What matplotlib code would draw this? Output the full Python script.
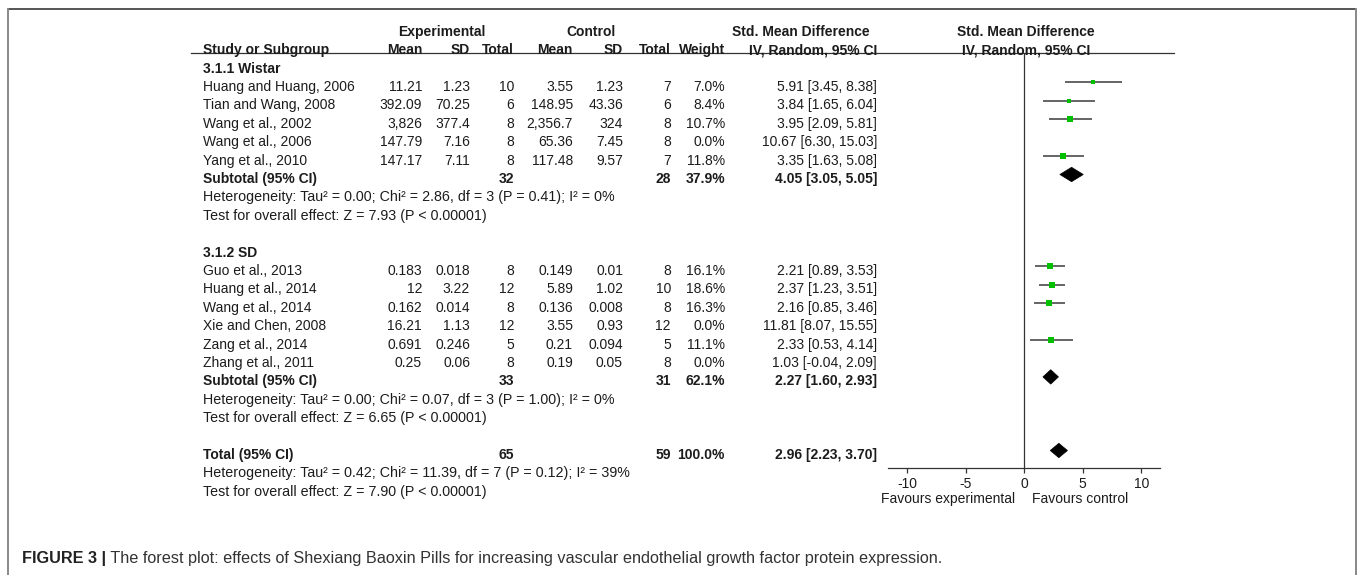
import matplotlib
matplotlib.use('Agg')
import matplotlib.pyplot as plt
from matplotlib.patches import Polygon
import numpy as np

plt.rcParams['font.family'] = ['Liberation Sans', 'DejaVu Sans']

# ---------------- data ----------------
group_names = ['3.1.1 Wistar', '3.1.2 SD']

g1_study = ['Huang and Huang, 2006', 'Tian and Wang, 2008', 'Wang et al., 2002',
            'Wang et al., 2006', 'Yang et al., 2010']
g1_exp_mean = ['11.21', '392.09', '3,826', '147.79', '147.17']
g1_exp_sd = ['1.23', '70.25', '377.4', '7.16', '7.11']
g1_exp_n = [10, 6, 8, 8, 8]
g1_ctl_mean = ['3.55', '148.95', '2,356.7', '65.36', '117.48']
g1_ctl_sd = ['1.23', '43.36', '324', '7.45', '9.57']
g1_ctl_n = [7, 6, 8, 8, 7]
g1_weight = [7.0, 8.4, 10.7, 0.0, 11.8]
g1_smd = [5.91, 3.84, 3.95, 10.67, 3.35]
g1_lo = [3.45, 1.65, 2.09, 6.30, 1.63]
g1_hi = [8.38, 6.04, 5.81, 15.03, 5.08]

g2_study = ['Guo et al., 2013', 'Huang et al., 2014', 'Wang et al., 2014',
            'Xie and Chen, 2008', 'Zang et al., 2014', 'Zhang et al., 2011']
g2_exp_mean = ['0.183', '12', '0.162', '16.21', '0.691', '0.25']
g2_exp_sd = ['0.018', '3.22', '0.014', '1.13', '0.246', '0.06']
g2_exp_n = [8, 12, 8, 12, 5, 8]
g2_ctl_mean = ['0.149', '5.89', '0.136', '3.55', '0.21', '0.19']
g2_ctl_sd = ['0.01', '1.02', '0.008', '0.93', '0.094', '0.05']
g2_ctl_n = [8, 10, 8, 12, 5, 8]
g2_weight = [16.1, 18.6, 16.3, 0.0, 11.1, 0.0]
g2_smd = [2.21, 2.37, 2.16, 11.81, 2.33, 1.03]
g2_lo = [0.89, 1.23, 0.85, 8.07, 0.53, -0.04]
g2_hi = [3.53, 3.51, 3.46, 15.55, 4.14, 2.09]

# subtotal 1, subtotal 2, total
sum_label = ['Subtotal (95% CI)', 'Subtotal (95% CI)', 'Total (95% CI)']
sum_exp_n = [32, 33, 65]
sum_ctl_n = [28, 31, 59]
sum_weight = [37.9, 62.1, 100.0]
sum_smd = [4.05, 2.27, 2.96]
sum_lo = [3.05, 1.60, 2.23]
sum_hi = [5.05, 2.93, 3.70]
sum_het = ['Heterogeneity: Tau\u00b2 = 0.00; Chi\u00b2 = 2.86, df = 3 (P = 0.41); I\u00b2 = 0%',
           'Heterogeneity: Tau\u00b2 = 0.00; Chi\u00b2 = 0.07, df = 3 (P = 1.00); I\u00b2 = 0%',
           'Heterogeneity: Tau\u00b2 = 0.42; Chi\u00b2 = 11.39, df = 7 (P = 0.12); I\u00b2 = 39%']
sum_test = ['Test for overall effect: Z = 7.93 (P < 0.00001)',
            'Test for overall effect: Z = 6.65 (P < 0.00001)',
            'Test for overall effect: Z = 7.90 (P < 0.00001)']

x_ticks = [-10, -5, 0, 5, 10]
x_tick_labels = ['-10', '-5', '0', '5', '10']
favours = ['Favours experimental', 'Favours control']
col_headers = ['Mean', 'SD', 'Total', 'Mean', 'SD', 'Total', 'Weight', 'IV, Random, 95% CI']
caption_bold = 'FIGURE 3 |'
caption_text = (' The forest plot: effects of Shexiang Baoxin Pills for increasing vascular '
                'endothelial growth factor protein expression.')

# ---------------- layout ----------------
W, H, DPI = 1357, 575, 100
FS = 10
FS_NOTE = 10.25
TXT = '#1c1c1c'
LINE = '#333333'
GREEN = '#00c000'
PITCH = 18.4
Y0 = 31.8


def ry(i):
    return Y0 + i * PITCH


COL_R = [422, 470, 514, 573, 623, 671, 725, 877]
X_LABEL = 203

fig = plt.figure(figsize=(W / DPI, H / DPI), dpi=DPI)
fig.patch.set_facecolor('white')
ax_t = fig.add_axes([0, 0, 1, 1])
ax_t.set_xlim(0, W)
ax_t.set_ylim(H, 0)
ax_t.axis('off')

# border frame
ax_t.plot([7.5, 1355.5], [8.5, 8.5], color='#555555', lw=1.4, solid_capstyle='butt')
ax_t.plot([7.5, 7.5], [8.5, H + 5], color='#888888', lw=1.4, clip_on=False)
ax_t.plot([1355.5, 1355.5], [8.5, H + 5], color='#888888', lw=1.4, clip_on=False)

# forest axes
FX0, FX1 = 888.3, 1160.0
FY_TOP, FY_BOT = 53.0, 468.3
ax = fig.add_axes([FX0 / W, 1 - FY_BOT / H, (FX1 - FX0) / W, (FY_BOT - FY_TOP) / H])
ax.set_xlim(-11.6, 11.6)
ax.set_ylim(FY_BOT, FY_TOP)
ax.patch.set_alpha(0)
for s in ['top', 'right', 'left']:
    ax.spines[s].set_visible(False)
ax.spines['bottom'].set_color(LINE)
ax.spines['bottom'].set_linewidth(0.9)
ax.set_yticks([])
ax.set_xticks(x_ticks)
ax.set_xticklabels(x_tick_labels)
ax.tick_params(axis='x', length=3.8, width=0.9, color=LINE, pad=2.5,
               labelsize=FS, labelcolor=TXT)
ax.axvline(0, color=LINE, lw=0.9)

# header line
ax_t.plot([191, 1174], [53.3, 53.3], color=LINE, lw=0.9)

# headers
bold = dict(fontsize=FS, color=TXT, fontweight='bold', va='center')
ax_t.text(442, ry(0), 'Experimental', ha='center', **bold)
ax_t.text(591, ry(0), 'Control', ha='center', **bold)
ax_t.text(801, ry(0), 'Std. Mean Difference', ha='center', **bold)
ax_t.text(1026, ry(0), 'Std. Mean Difference', ha='center', **bold)
ax_t.text(X_LABEL, ry(1), 'Study or Subgroup', ha='left', **bold)
for x, h in zip(COL_R, col_headers):
    ax_t.text(x, ry(1), h, ha='right', **bold)
ax_t.text(1026, ry(1), 'IV, Random, 95% CI', ha='center', **bold)

norm = dict(fontsize=FS, color=TXT, va='center')
note = dict(fontsize=FS_NOTE, color=TXT, va='center')


def ci_str(m, l, h):
    return f'{m:.2f} [{l:.2f}, {h:.2f}]'


def draw_group(start, name, study, em, es, en, cm, cs, cn, w, smd, lo, hi, k):
    ax_t.text(X_LABEL, ry(start), name, ha='left', **bold)
    for j in range(len(study)):
        r = start + 1 + j
        vals = [em[j], es[j], str(en[j]), cm[j], cs[j], str(cn[j]),
                f'{w[j]:.1f}%', ci_str(smd[j], lo[j], hi[j])]
        ax_t.text(X_LABEL, ry(r), study[j], ha='left', **norm)
        for x, v in zip(COL_R, vals):
            ax_t.text(x, ry(r), v, ha='right', **norm)
        if w[j] > 0:
            yy = ry(r) - 4.5
            ax.plot([lo[j], hi[j]], [yy, yy], color='#3a3a3a', lw=1.1,
                    solid_capstyle='butt', zorder=2)
            ax.plot([smd[j]], [yy], marker='s', linestyle='none',
                    markersize=1.62 * np.sqrt(w[j]) * 0.72,
                    color=GREEN, markeredgewidth=0, zorder=3)
    draw_summary(start + 1 + len(study), k)


def draw_summary(r, k):
    ax_t.text(X_LABEL, ry(r), sum_label[k], ha='left', **bold)
    vals = {2: str(sum_exp_n[k]), 5: str(sum_ctl_n[k]),
            6: f'{sum_weight[k]:.1f}%', 7: ci_str(sum_smd[k], sum_lo[k], sum_hi[k])}
    for ci, v in vals.items():
        ax_t.text(COL_R[ci], ry(r), v, ha='right', **bold)
    yy = ry(r) - 4.5
    hh = 7.2
    poly = Polygon([[sum_lo[k], yy], [sum_smd[k], yy - hh], [sum_hi[k], yy],
                    [sum_smd[k], yy + hh]], closed=True, facecolor='black',
                   edgecolor='black', lw=0.5, zorder=3)
    ax.add_patch(poly)
    ax_t.text(X_LABEL, ry(r + 1), sum_het[k], ha='left', **note)
    ax_t.text(X_LABEL, ry(r + 2), sum_test[k], ha='left', **note)


draw_group(2, group_names[0], g1_study, g1_exp_mean, g1_exp_sd, g1_exp_n,
           g1_ctl_mean, g1_ctl_sd, g1_ctl_n, g1_weight, g1_smd, g1_lo, g1_hi, 0)
draw_group(12, group_names[1], g2_study, g2_exp_mean, g2_exp_sd, g2_exp_n,
           g2_ctl_mean, g2_ctl_sd, g2_ctl_n, g2_weight, g2_smd, g2_lo, g2_hi, 1)
draw_summary(23, 2)

# favours labels
ax_t.text(1015, 499, favours[0], ha='right', **norm)
ax_t.text(1032, 499, favours[1], ha='left', **norm)

# caption
cap = ax_t.text(22, 558, caption_bold, ha='left', va='center', fontsize=11.7,
                fontweight='bold', color='#222222')
ax_t.annotate(caption_text, xy=(1, 0), xycoords=cap, ha='left', va='bottom',
              fontsize=11.7, color='#333333')

fig.savefig('out.png', dpi=DPI)
